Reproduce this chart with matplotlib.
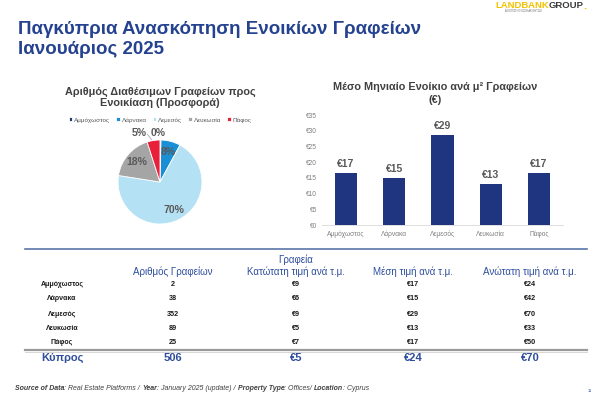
import matplotlib
matplotlib.use("Agg")
import matplotlib.pyplot as plt
import numpy as np
from matplotlib.lines import Line2D

plt.rcParams['font.family'] = ['Liberation Sans', 'DejaVu Sans']

# ---------------- data ----------------
regions = ["Αμμόχωστος", "Λάρνακα", "Λεμεσός", "Λευκωσία", "Πάφος"]
office_counts = [2, 38, 352, 89, 25]
pie_colors = ["#1f3a7a", "#1a8fd6", "#b5e1f4", "#a5a5a5", "#e8203a"]

avg_rent = [16.6, 14.9, 28.7, 13.0, 16.7]
bar_yticks = [0, 5, 10, 15, 20, 25, 30, 35]

min_price = [9, 6, 9, 5, 7]
mean_price = [17, 15, 29, 13, 17]
max_price = [24, 42, 70, 33, 50]
total_label = "Κύπρος"
total_count = 506
total_min = 5
total_mean = 24
total_max = 70

col_headers = ["Αριθμός Γραφείων", "Κατώτατη τιμή ανά τ.μ.", "Μέση τιμή ανά τ.μ.", "Ανώτατη τιμή ανά τ.μ."]

W, H = 600, 409
fig = plt.figure(figsize=(6, 4.09), dpi=100)
fig.patch.set_facecolor("white")

def fx(x):
    return x / W

def fy(y):
    return 1 - y / H

NAVY = "#24428f"
GRAY = "#595959"

# ---------------- title & logo ----------------
fig.text(fx(18), fy(29), "Παγκύπρια Ανασκόπηση Ενοικίων Γραφείων", fontsize=13.5,
         color=NAVY, fontweight="bold", va="center", ha="left")
fig.text(fx(18), fy(50), "Ιανουάριος 2025", fontsize=13.5, color=NAVY,
         fontweight="bold", va="center", ha="left")

t1 = fig.text(fx(495), fy(6), "LANDBANK", fontsize=6.8, color="#f2c200",
              fontweight="bold", va="center", ha="left")
fig.canvas.draw()
bb = t1.get_window_extent()
t2 = fig.text(bb.x1 / W, fy(6), "GROUP",
              fontsize=6.8, color="#3a3a3a", fontweight="bold", va="center", ha="left")
fig.canvas.draw()
bb2 = t2.get_window_extent()
fig.text(bb2.x1 / W, fy(6), ".", fontsize=8, color="#f2c200",
         fontweight="bold", va="center", ha="left")
fig.text(fx(505), fy(11.5), "ΑΞΙΟΠΙΣΤΗ ΓΝΩΣΗ ΑΚΙΝΗΤΩΝ", fontsize=1.8, color="#666666",
         va="center", ha="left")

# ---------------- pie ----------------
fig.text(fx(160), fy(92), "Αριθμός Διαθέσιμων Γραφείων προς", fontsize=7.8,
         color="#404040", fontweight="bold", ha="center", va="center")
fig.text(fx(160), fy(103.5), "Ενοικίαση (Προσφορά)", fontsize=7.8,
         color="#404040", fontweight="bold", ha="center", va="center")

cx, cy, r = 160, 182, 42
axp = fig.add_axes([fx(cx - r), fy(cy + r), 2 * r / W, 2 * r / H])
wedges, _ = axp.pie(office_counts, colors=pie_colors, startangle=90,
                    counterclock=False, radius=1.0,
                    wedgeprops=dict(edgecolor="white", linewidth=0.6))
axp.set_xlim(-1, 1)
axp.set_ylim(-1, 1)
axp.set_aspect("auto")
axp.axis("off")
total = sum(office_counts)
for i, w in enumerate(wedges):
    pct = office_counts[i] / total * 100
    mid = np.deg2rad((w.theta1 + w.theta2) / 2)
    lab = f"{pct:.0f}%"
    if pct < 6:
        rr = 1.17
        dx = -0.32 if pct > 2 else -0.05
        x, y = rr * np.cos(mid) + dx, rr * np.sin(mid)
        axp.text(x, y, lab, ha="center", va="center", fontsize=7.5,
                 color=GRAY, fontweight="bold", clip_on=False)
        if pct > 2:
            axp.plot([x + 0.2, 0.98 * np.cos(mid) - 0.05],
                     [y - 0.02, 0.98 * np.sin(mid) + 0.04], color="#a0a0a0",
                     lw=0.5, clip_on=False)
    else:
        rr = 0.74
        axp.text(rr * np.cos(mid), rr * np.sin(mid), lab, ha="center", va="center",
                 fontsize=7.5, color=GRAY, fontweight="bold")

fig.legend(wedges, regions, loc="center", bbox_to_anchor=(fx(160), fy(120)),
           ncol=5, fontsize=4.6, frameon=False, handlelength=0.6, handleheight=0.6,
           handletextpad=0.3, columnspacing=0.9, labelcolor=GRAY)

# ---------------- bars ----------------
fig.text(fx(435), fy(87), "Μέσο Μηνιαίο Ενοίκιο ανά μ² Γραφείων", fontsize=7.8,
         color="#404040", fontweight="bold", ha="center", va="center")
fig.text(fx(435), fy(100), "(€)", fontsize=7.8,
         color="#404040", fontweight="bold", ha="center", va="center")

axb = fig.add_axes([fx(322), fy(225), 241 / W, 110 / H])
xpos = np.arange(len(regions))
axb.bar(xpos, avg_rent, width=0.46, color="#1f3580")
axb.set_xlim(-0.5, len(regions) - 0.5)
axb.set_ylim(0, 35)
axb.set_yticks(bar_yticks)
axb.set_yticklabels([f"€{v}" for v in bar_yticks])
axb.set_xticks(xpos)
axb.set_xticklabels(regions)
axb.tick_params(axis="both", length=0, labelsize=4.8, labelcolor="#7f7f7f")
axb.tick_params(axis="x", pad=4)
for s in ["top", "right", "left"]:
    axb.spines[s].set_visible(False)
axb.spines["bottom"].set_color("#d9d9d9")
axb.spines["bottom"].set_linewidth(0.6)
for x, v in zip(xpos, avg_rent):
    axb.text(x, v + 1.2, f"€{v:.0f}", ha="center", va="bottom", fontsize=7.5,
             color=GRAY, fontweight="bold")

# ---------------- table ----------------
fig.add_artist(Line2D([fx(25), fx(587)], [fy(249), fy(249)], color="#5a76a8", lw=1.2))
fig.add_artist(Line2D([fx(25), fx(587)], [fy(349.5), fy(349.5)], color="#9a9a9a", lw=1.6))
fig.add_artist(Line2D([fx(25), fx(587)], [fy(351.5), fy(351.5)], color="#d0d0d0", lw=0.6))

col_x = [173, 296, 413, 530]
HCOL = "#2e4d9c"
fig.text(fx(296), fy(260), "Γραφεία", fontsize=7, color=HCOL, ha="center", va="center")
for x, h in zip(col_x, col_headers):
    fig.text(fx(x), fy(272), h, fontsize=7, color=HCOL, ha="center", va="center")

row_y = [284, 299, 314, 328.5, 343]
for i, name in enumerate(regions):
    y = row_y[i]
    fig.text(fx(62), fy(y), name, fontsize=5.0, color="#1a1a1a", fontweight="bold",
             ha="center", va="center")
    vals = [f"{office_counts[i]}", f"€{min_price[i]}", f"€{mean_price[i]}", f"€{max_price[i]}"]
    for x, v in zip(col_x, vals):
        fig.text(fx(x), fy(y), v, fontsize=5.2, color="#1a1a1a", fontweight="bold",
                 ha="center", va="center")

tvals = [f"{total_count}", f"€{total_min}", f"€{total_mean}", f"€{total_max}"]
fig.text(fx(62), fy(358), total_label, fontsize=8, color=HCOL, fontweight="bold",
         ha="center", va="center")
for x, v in zip(col_x, tvals):
    fig.text(fx(x), fy(358), v, fontsize=8, color=HCOL, fontweight="bold",
             ha="center", va="center")

# ---------------- source line ----------------
pieces = [("Source of Data", "bold"), (": Real Estate Platforms / ", "normal"),
          ("Year", "bold"), (": January 2025 (update) / ", "normal"),
          ("Property Type", "bold"), (": Offices/ ", "normal"),
          ("Location", "bold"), (": Cyprus", "normal")]
xcur = fx(15)
fig.canvas.draw()
for txt, wt in pieces:
    t = fig.text(xcur, fy(388), txt, fontsize=5.0, color="#404040", fontweight=wt,
                 fontstyle="italic", ha="left", va="center")
    fig.canvas.draw()
    xcur = t.get_window_extent().x1 / fig.bbox.width

fig.text(fx(590), fy(391), "11", fontsize=3, color="#3050a0", ha="center", va="center")

fig.savefig("out.png", dpi=100, facecolor="white")
